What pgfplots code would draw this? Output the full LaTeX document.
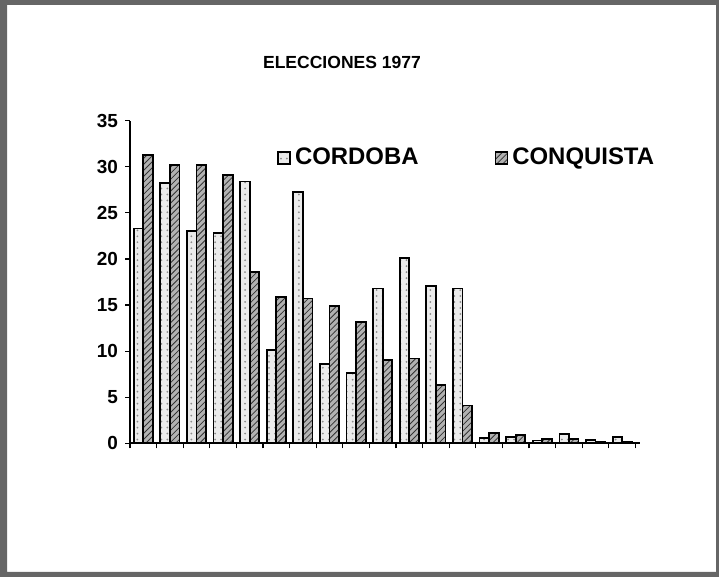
\documentclass[border=0pt]{standalone}
\usepackage{fontspec}
\setmainfont{Liberation Sans}
\usepackage{pgfplots}
\usepackage{pgfplotstable}
\pgfplotsset{compat=1.18}
\usetikzlibrary{patterns}
\pgfplotstableread{
x cordoba conquista
0 23.3 31.3
1 28.2 30.2
2 23.0 30.2
3 22.8 29.1
4 28.4 18.6
5 10.1 15.9
6 27.3 15.7
7 8.6 14.9
8 7.6 13.2
9 16.8 9.0
10 20.1 9.2
11 17.1 6.3
12 16.8 4.1
13 0.6 1.1
14 0.7 0.9
15 0.3 0.5
16 1.0 0.5
17 0.4 0.2
18 0.7 0.1
}\datatable
\begin{document}
\begin{tikzpicture}
\begin{scope}[x=0.5bp,y=0.5bp]
\fill[black!60, even odd rule] (0,0) rectangle (719,577) (7,5) rectangle (716,572);
\node[font=\fontsize{8.8}{10}\selectfont\bfseries] at (342,515) {ELECCIONES 1977};
\end{scope}
\begin{axis}[
  at={(65bp,66.85bp)}, anchor=south west,
  scale only axis, width=255bp, height=161.3bp,
  xmin=-0.5, xmax=18.67, ymin=0, ymax=35,
  axis lines=left, axis line style={-, line width=1bp},
  ybar=0pt, bar width=0.36,
  xtick={-0.5,0.5,...,18.5}, xticklabel=\empty,
  ytick={0,5,...,35},
  tick align=outside, major tick length=2.5bp,
  tick style={black, line width=0.6bp},
  yticklabel style={font=\fontsize{9.5}{10}\selectfont\bfseries},
  /pgf/number format/assume math mode=true,
  legend columns=2,
  legend style={at={(0.288,0.884)}, anchor=west, draw=none, fill=none,
    font=\fontsize{12}{13}\selectfont\bfseries, inner sep=0pt,
    /tikz/every even column/.append style={column sep=36bp}},
  legend image code/.code={\draw[#1] (0bp,-3bp) rectangle (6bp,3bp);},
]
\addplot[draw=black, line width=0.9bp, fill=black!8,
  postaction={pattern=dots, pattern color=black!45}] table[x=x,y=cordoba]{\datatable};
\addplot[draw=black, line width=0.9bp, fill=black!30,
  postaction={pattern=north east lines, pattern color=black!80}] table[x=x,y=conquista]{\datatable};
\legend{CORDOBA, CONQUISTA}
\end{axis}
\end{tikzpicture}
\end{document}
